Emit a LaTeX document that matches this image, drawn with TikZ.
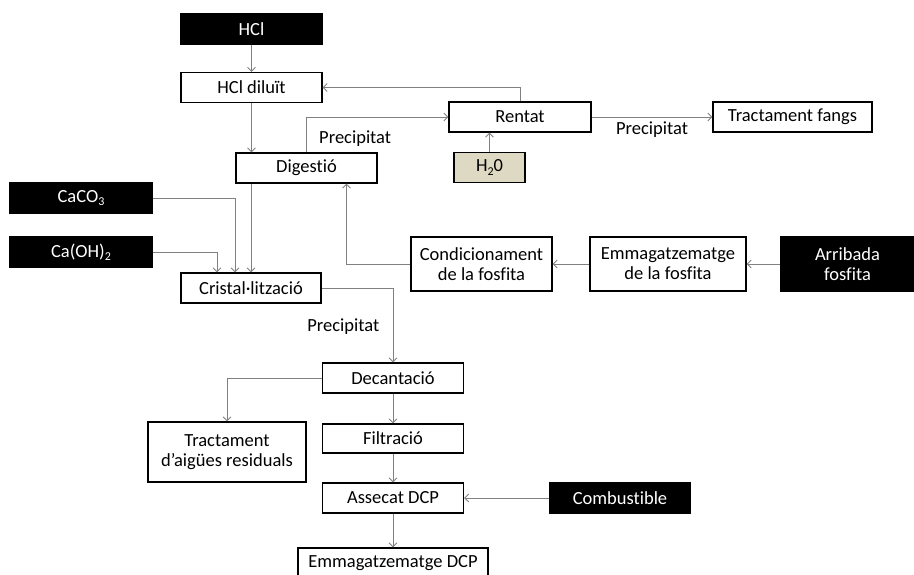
\documentclass[tikz,border=0pt]{standalone}
\usepackage{fontspec}
\setmainfont[Ligatures=NoCommon]{Carlito}
\usetikzlibrary{arrows.meta}
\definecolor{tanbox}{RGB}{221,217,195}
\definecolor{linegrey}{RGB}{128,128,128}
\newcommand{\chemsub}[1]{\raisebox{-0.35ex}{\fontsize{12}{12}\selectfont #1}}

\begin{document}
\begin{tikzpicture}[x=1pt,y=-1pt,
    box/.style={draw=black, line width=1.3pt, fill=white, minimum width=141pt,
        minimum height=30pt, inner sep=0pt, align=center,
        font=\fontsize{18.5}{20}\selectfont},
    feed/.style={box, fill=black, text=white},
    flow/.style={draw=linegrey, line width=0.8pt,
        -{Straight Barb[length=4pt,width=8pt]}},
    lbl/.style={font=\fontsize{18.5}{20}\selectfont}]
    % Fix the page size
    \useasboundingbox (0,0) rectangle (914,575);

    % Top part: acid and digestion
    \node[feed] (hcl) at (251.5,29) {HCl};
    \node[box] (hcldil) at (251.5,87.5) {HCl diluït};
    \node[box] (dig) at (306.5,168) {Digestió};
    \node[box, minimum width=142pt] (rentat) at (520,117) {Rentat};
    \node[box, minimum width=159pt] (fangs) at (792.5,117) {Tractament fangs};
    \node[box, fill=tanbox, minimum width=71pt] (water) at (489.5,167.5) {H\chemsub{2}0};

    % Calcium feeds and crystallisation
    \node[feed, minimum width=142pt] (caco) at (81,198) {CaCO\chemsub{3}};
    \node[feed, minimum width=142pt] (caoh) at (81,252) {Ca(OH)\chemsub{2}};
    \node[box, minimum width=140pt] (crist) at (251,288) {Cristal·lització};

    % Phosphate rock line
    \node[box, minimum height=54pt] (cond) at (481.5,264) {Condicionament\\de la fosfita};
    \node[box, minimum width=156pt, minimum height=54pt] (emmf) at (668,264) {Emmagatzematge\\de la fosfita};
    \node[feed, minimum width=133pt, minimum height=54pt] (arrib) at (847.5,264) {Arribada\\fosfita};

    % Bottom part: separation and drying
    \node[box] (decant) at (393,378) {Decantació};
    \node[box, minimum width=158pt, minimum height=60pt] (aigues) at (227,452) {Tractament\\d’aigües residuals};
    \node[box, minimum height=29pt] (filt) at (393,438.5) {Filtració};
    \node[box] (assec) at (393,498) {Assecat DCP};
    \node[feed, minimum width=140pt] (combust) at (620,498) {Combustible};
    \node[box, minimum width=190pt] (emmdcp) at (393,563) {Emmagatzematge DCP};

    % Connectors
    \draw[flow] (hcl) -- (hcldil);
    \draw[flow] (hcldil.south) -- (hcldil.south |- dig.north);
    \draw[flow] (rentat.north) |- (hcldil.east);
    \draw[flow] (dig.north) |- (rentat.west)
        node[lbl, pos=0.2, right=9pt] {Precipitat};
    \draw[flow] (rentat.east) -- (fangs.west)
        node[lbl, midway, below=1pt] {Precipitat};
    \draw[flow] (water.north) -- (water.north |- rentat.south);
    \draw[flow] (caco.east) -| ([xshift=-16pt]crist.north);
    \draw[flow] (caoh.east) -| ([xshift=-34pt]crist.north);
    \draw[flow] (dig.south -| crist.north) -- (crist.north);
    \draw[flow] (cond.west) -| ([xshift=40pt]dig.south);
    \draw[flow] (emmf.west) -- (cond.east);
    \draw[flow] (arrib.west) -- (emmf.east);
    \draw[flow] (crist.east) -| (decant.north)
        node[lbl, pos=0.76, left=10pt] {Precipitat};
    \draw[flow] (decant.west) -| (aigues.north);
    \draw[flow] (decant) -- (filt);
    \draw[flow] (filt) -- (assec);
    \draw[flow] (combust.west) -- (assec.east);
    \draw[flow] (assec) -- (emmdcp);

\end{tikzpicture}
\end{document}
